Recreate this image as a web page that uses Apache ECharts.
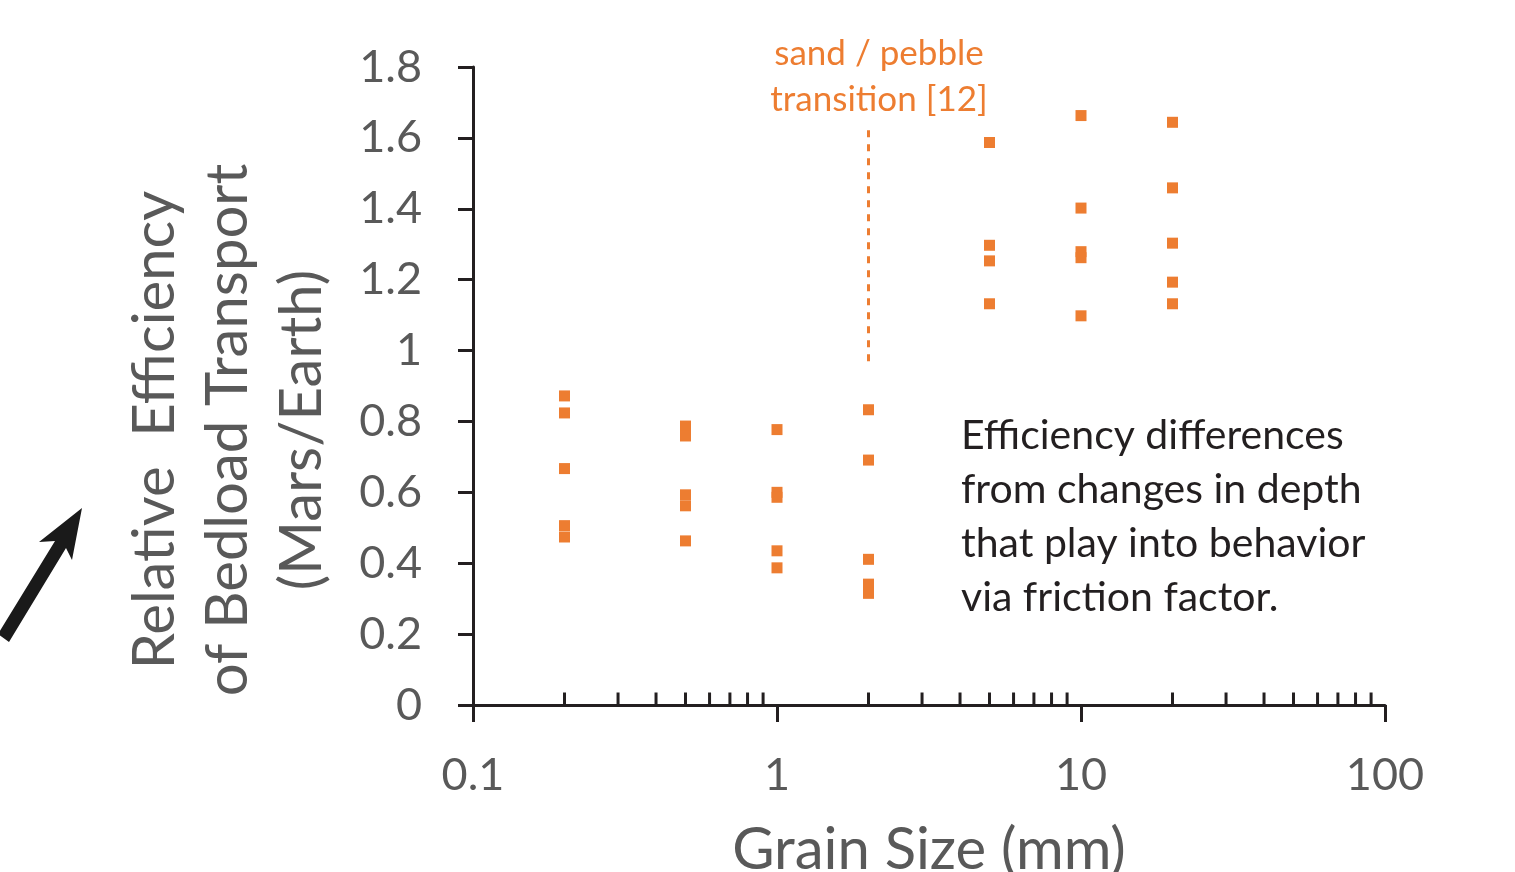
<!DOCTYPE html>
<html>
<head>
<meta charset="utf-8">
<script src="https://cdn.jsdelivr.net/npm/echarts@6/dist/echarts.min.js"></script>
<style>
html,body{margin:0;padding:0;background:#fff;}
#chart{width:1515px;height:872px;}
</style>
</head>
<body>
<div id="chart"></div>
<script>
// ---- data ----
const grainSizes = [0.2, 0.5, 1, 2, 5, 10, 20];
const efficiency02 = [0.872, 0.824, 0.667, 0.506, 0.474];
const efficiency05 = [0.787, 0.759, 0.593, 0.562, 0.463];
const efficiency1  = [0.777, 0.600, 0.586, 0.435, 0.387];
const efficiency2  = [0.833, 0.691, 0.411, 0.341, 0.315];
const efficiency5  = [1.587, 1.297, 1.253, 1.132];
const efficiency10 = [1.663, 1.402, 1.279, 1.262, 1.098];
const efficiency20 = [1.644, 1.459, 1.303, 1.193, 1.132];
const transitionSize = 2;
const transitionRange = [0.97, 1.64];
const xTickLabels = ['0.1', '1', '10', '100'];
const minorTickValues = [0.2,0.3,0.4,0.5,0.6,0.7,0.8,0.9, 2,3,4,5,6,7,8,9, 20,30,40,50,60,70,80,90];
const yTitleLines = ['Relative  Efficiency', 'of Bedload Transport', '(Mars/Earth)'];
const noteLines = ['Efficiency differences', 'from changes in depth', 'that play into behavior', 'via friction factor.'];
const transitionLabel = 'sand / pebble\ntransition [12]';

const groups = [efficiency02, efficiency05, efficiency1, efficiency2, efficiency5, efficiency10, efficiency20];
const points = [];
groups.forEach((g, i) => g.forEach(v => points.push([grainSizes[i], v])));

const ORANGE = '#ED7D31';
const GREY = '#595959';
const AXIS = '#231F20';
const FONT = 'Lato';

const chart = echarts.init(document.getElementById('chart'), null, {renderer: 'canvas'});
const option = {
  animation: false,
  grid: {left: 473, right: 130, top: 67, bottom: 167, containLabel: false, outerBoundsMode: 'none'},
  xAxis: {
    type: 'log', logBase: 10, min: 0.1, max: 100,
    axisLine: {show: true, onZero: false, lineStyle: {color: AXIS, width: 3}},
    axisTick: {show: true, inside: false, length: 17, lineStyle: {color: AXIS, width: 3}},
    minorTick: {show: false},
    splitLine: {show: false},
    axisLabel: {
      margin: 48, color: GREY, fontFamily: FONT, fontSize: 45,
      formatter: v => xTickLabels[Math.round(Math.log10(v)) + 1]
    },
    name: 'Grain Size (mm)', nameLocation: 'middle', nameGap: 116,
    nameTextStyle: {color: GREY, fontFamily: FONT, fontSize: 58}
  },
  yAxis: {
    type: 'value', min: 0, max: 1.8, interval: 0.2,
    axisLine: {show: true, onZero: false, lineStyle: {color: AXIS, width: 3}},
    axisTick: {show: true, inside: false, length: 15, lineStyle: {color: AXIS, width: 3}},
    splitLine: {show: false},
    axisLabel: {margin: 51, color: GREY, fontFamily: FONT, fontSize: 45}
  },
  series: [
    {
      type: 'scatter', data: points, symbol: 'rect', symbolSize: 11,
      itemStyle: {color: ORANGE, opacity: 1}, z: 3,
      markLine: {
        silent: true, symbol: ['none', 'none'], label: {show: false},
        lineStyle: {color: ORANGE, width: 3, type: [7, 7], opacity: 1},
        data: [[{coord: [transitionSize, transitionRange[0]]}, {coord: [transitionSize, transitionRange[1]]}]]
      }
    },
    {
      type: 'scatter', data: minorTickValues.map(v => [v, 0]), symbol: 'rect',
      symbolSize: [3, 13], symbolOffset: [0, -6], clip: false, silent: true,
      itemStyle: {color: AXIS, opacity: 1}, z: 1
    }
  ],
  graphic: [
    ...yTitleLines.map((t, i) => ({
      type: 'text', x: 155 + i * 73.5, y: 430, rotation: Math.PI / 2,
      style: {text: t, fill: GREY, font: '58px ' + FONT, align: 'center', verticalAlign: 'middle'}
    })),
    {
      type: 'text', x: 961, y: 409,
      style: {text: noteLines.join('\n'), fill: AXIS, font: '41px ' + FONT, lineHeight: 54,
              align: 'left', verticalAlign: 'top'}
    },
    {
      type: 'text', x: 879, y: 31,
      style: {text: transitionLabel, fill: ORANGE, font: '35px ' + FONT, lineHeight: 46,
              align: 'center', verticalAlign: 'top'}
    },
    {
      type: 'polygon',
      shape: {points: [[-2, 634], [9, 642], [66, 548], [72, 560], [82, 508], [39, 542], [55, 541]]},
      style: {fill: '#1a1a1a'}
    }
  ]
};
chart.setOption(option);
</script>
</body>
</html>
